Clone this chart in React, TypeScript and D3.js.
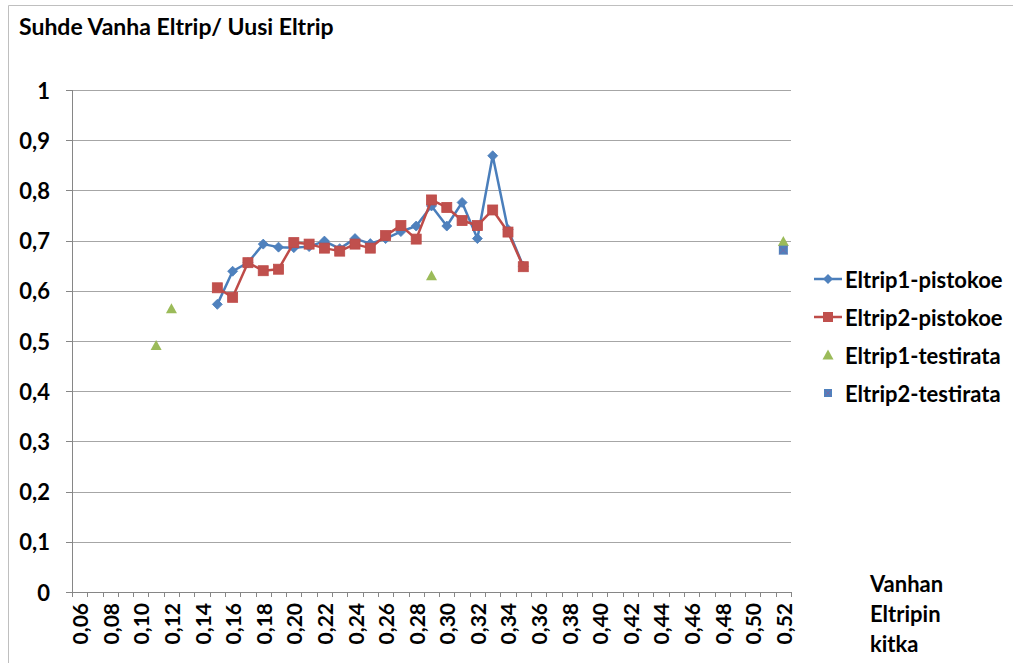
import React from "react";
import * as d3 from "d3";

const categories = [
  0.06, 0.07, 0.08, 0.09, 0.1, 0.11, 0.12, 0.13, 0.14, 0.15, 0.16, 0.17, 0.18, 0.19, 0.2, 0.21,
  0.22, 0.23, 0.24, 0.25, 0.26, 0.27, 0.28, 0.29, 0.3, 0.31, 0.32, 0.33, 0.34, 0.35, 0.36, 0.37,
  0.38, 0.39, 0.4, 0.41, 0.42, 0.43, 0.44, 0.45, 0.46, 0.47, 0.48, 0.49, 0.5, 0.51, 0.52,
];
const yTicks = [0, 0.1, 0.2, 0.3, 0.4, 0.5, 0.6, 0.7, 0.8, 0.9, 1];

const pistokoeX = [
  0.15, 0.16, 0.17, 0.18, 0.19, 0.2, 0.21, 0.22, 0.23, 0.24, 0.25, 0.26, 0.27, 0.28, 0.29, 0.3,
  0.31, 0.32, 0.33, 0.34, 0.35,
];
const eltrip1PistokoeY = [
  0.573, 0.639, 0.656, 0.693, 0.687, 0.686, 0.688, 0.699, 0.684, 0.704, 0.694, 0.704, 0.718,
  0.729, 0.769, 0.729, 0.776, 0.704, 0.869, 0.722, 0.649,
];
const eltrip2PistokoeY = [
  0.606, 0.587, 0.656, 0.64, 0.643, 0.696, 0.693, 0.685, 0.679, 0.693, 0.685, 0.71, 0.73, 0.703,
  0.781, 0.766, 0.74, 0.73, 0.761, 0.717, 0.648,
];
const eltrip1TestirataX = [0.11, 0.12, 0.29, 0.52];
const eltrip1TestirataY = [0.491, 0.564, 0.63, 0.698];
const eltrip2TestirataX = [0.52];
const eltrip2TestirataY = [0.681];

const seriesNames = ["Eltrip1-pistokoe", "Eltrip2-pistokoe", "Eltrip1-testirata", "Eltrip2-testirata"];

const FONT = "Lato, 'Open Sans', sans-serif";
const BLUE = "#4A7EBB";
const BLUE_FILL = "#4F81BD";
const RED = "#BE4B48";
const RED_FILL = "#C0504D";
const GREEN = "#9BBB59";

const key = (v: number) => v.toFixed(2).replace(".", ",");

export default function App() {
  const left = 72, right = 791, top = 90, bottom = 592;
  const x = d3.scaleBand<string>().domain(categories.map(key)).range([left, right]).padding(0);
  const bw = x.bandwidth();
  const cx = (v: number) => (x(key(v)) as number) + bw / 2;
  const y = d3.scaleLinear().domain([0, 1]).range([bottom, top]);

  const line = d3
    .line<[number, number]>()
    .x((d) => cx(d[0]))
    .y((d) => y(d[1]));

  const s1 = pistokoeX.map((v, i) => [v, eltrip1PistokoeY[i]] as [number, number]);
  const s2 = pistokoeX.map((v, i) => [v, eltrip2PistokoeY[i]] as [number, number]);
  const s3 = eltrip1TestirataX.map((v, i) => [v, eltrip1TestirataY[i]] as [number, number]);
  const s4 = eltrip2TestirataX.map((v, i) => [v, eltrip2TestirataY[i]] as [number, number]);

  const diamond = (px: number, py: number, r = 5) =>
    `M${px},${py - r}L${px + r},${py}L${px},${py + r}L${px - r},${py}Z`;
  const triangle = (px: number, py: number, r = 5.5) =>
    `M${px},${py - r}L${px + r},${py + r * 0.8}L${px - r},${py + r * 0.8}Z`;

  const xTickIdx = d3.range(categories.length + 1);
  const legendY = [279, 317, 355, 393];

  return (
    <svg
      width={1013}
      height={663}
      style={{ position: "absolute", left: 0, top: 0, background: "#fff" }}
      fontFamily={FONT}
    >
      <rect x={0} y={0} width={1013} height={663} fill="#fff" />
      <line x1={8.5} y1={5.5} x2={8.5} y2={663} stroke="#bfbfbf" />
      <line x1={8.5} y1={5.5} x2={1013} y2={5.5} stroke="#bfbfbf" />

      <text x={19} y={35} fontSize={23} fontWeight="bold" fill="#000">
        Suhde Vanha Eltrip/ Uusi Eltrip
      </text>

      {/* gridlines */}
      {yTicks.filter((t) => t > 0).map((t) => (
        <line key={"g" + t} x1={left} x2={right} y1={Math.round(y(t)) + 0.5} y2={Math.round(y(t)) + 0.5} stroke="#a6a6a6" />
      ))}
      {/* y axis */}
      <line x1={left + 0.5} x2={left + 0.5} y1={top} y2={bottom + 5} stroke="#868686" />
      {yTicks.map((t) => (
        <g key={"yt" + t}>
          <line x1={left - 6} x2={left} y1={Math.round(y(t)) + 0.5} y2={Math.round(y(t)) + 0.5} stroke="#868686" />
          <text x={50} y={y(t)} textAnchor="end" dominantBaseline="central" fontSize={22} fontWeight="bold">
            {String(t).replace(".", ",")}
          </text>
        </g>
      ))}
      {/* x axis */}
      <line x1={left - 6} x2={right} y1={bottom + 0.5} y2={bottom + 0.5} stroke="#868686" />
      {xTickIdx.map((i) => (
        <line key={"xt" + i} x1={Math.round(left + i * bw) + 0.5} x2={Math.round(left + i * bw) + 0.5} y1={bottom} y2={bottom + 5} stroke="#868686" />
      ))}
      {categories.map((c, i) =>
        i % 2 === 0 ? (
          <text
            key={"xl" + i}
            transform={`translate(${cx(c)},603) rotate(-90)`}
            textAnchor="end"
            dominantBaseline="central"
            fontSize={21}
            fontWeight="bold"
          >
            {key(c)}
          </text>
        ) : null
      )}
      <g fontSize={22} fontWeight="bold">
        <text x={870} y={583} dominantBaseline="central">Vanhan</text>
        <text x={870} y={613} dominantBaseline="central">Eltripin</text>
        <text x={870} y={643} dominantBaseline="central">kitka</text>
      </g>

      {/* series 1 */}
      <path d={line(s1) || ""} fill="none" stroke={BLUE} strokeWidth={2.5} strokeLinejoin="round" />
      {s1.map((d, i) => (
        <path key={"d" + i} d={diamond(cx(d[0]), y(d[1]))} fill={BLUE_FILL} stroke={BLUE} strokeWidth={0.8} />
      ))}
      {/* series 2 */}
      <path d={line(s2) || ""} fill="none" stroke={RED} strokeWidth={2.5} strokeLinejoin="round" />
      {s2.map((d, i) => (
        <rect key={"s" + i} x={cx(d[0]) - 5} y={y(d[1]) - 5} width={10} height={10} fill={RED_FILL} stroke={RED} strokeWidth={0.8} />
      ))}
      {/* series 3 */}
      {s3.map((d, i) => (
        <path key={"t" + i} d={triangle(cx(d[0]), y(d[1]))} fill={GREEN} />
      ))}
      {/* series 4 */}
      {s4.map((d, i) => {
        const px = cx(d[0]), py = y(d[1]);
        return (
          <g key={"q" + i}>
            <rect x={px - 4.5} y={py - 4.5} width={9} height={9} fill={BLUE_FILL} />
            <path d={`M${px - 4},${py - 4}L${px + 4},${py + 4}M${px + 4},${py - 4}L${px - 4},${py + 4}`} stroke="#8064A2" strokeWidth={0.8} />
          </g>
        );
      })}

      {/* legend */}
      <g>
        <line x1={814} x2={842} y1={legendY[0]} y2={legendY[0]} stroke={BLUE} strokeWidth={2.5} />
        <path d={diamond(828, legendY[0])} fill={BLUE_FILL} />
        <line x1={814} x2={842} y1={legendY[1]} y2={legendY[1]} stroke={RED} strokeWidth={2.5} />
        <rect x={823} y={legendY[1] - 5} width={10} height={10} fill={RED_FILL} />
        <path d={triangle(828, legendY[2])} fill={GREEN} />
        <rect x={824} y={legendY[3] - 4} width={8} height={8} fill={BLUE_FILL} />
        <path d={`M${825},${legendY[3] - 3}L${831},${legendY[3] + 3}M${831},${legendY[3] - 3}L${825},${legendY[3] + 3}`} stroke="#8064A2" strokeWidth={0.8} />
        {seriesNames.map((n, i) => (
          <text key={n} x={845} y={legendY[i]} dominantBaseline="central" fontSize={22} fontWeight="bold">
            {n}
          </text>
        ))}
      </g>
    </svg>
  );
}
